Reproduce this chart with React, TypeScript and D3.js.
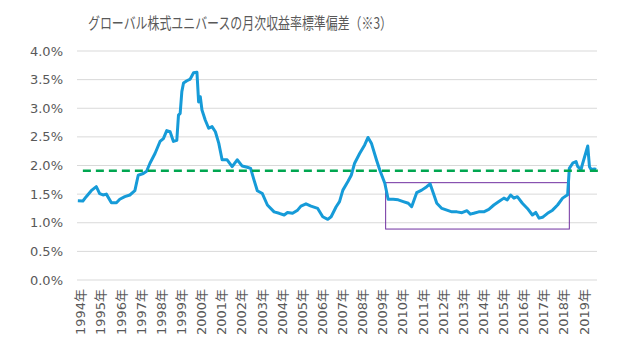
import React from 'react';
import * as d3 from 'd3';

// monthly categories on the axis: 1994-01 .. 2019-10
const firstYear = 1994;
const monthCount = 310;
const yearLabels = d3.range(1994, 2020).map(y => `${y}年`);
const yTicks = [0, 0.5, 1, 1.5, 2, 2.5, 3, 3.5, 4];

// (month, % std dev)
const months = [
  '1994-01', '1994-04', '1994-06', '1994-09', '1994-12', '1995-02', '1995-04', '1995-06', '1995-09', '1995-12',
  '1996-02', '1996-05', '1996-08', '1996-11', '1997-01', '1997-04', '1997-06', '1997-08', '1997-11', '1998-02',
  '1998-04', '1998-06', '1998-08', '1998-10', '1998-12', '1999-01', '1999-02', '1999-03', '1999-04', '1999-06',
  '1999-08', '1999-10', '1999-12', '2000-01', '2000-02', '2000-03', '2000-05', '2000-07', '2000-09', '2000-11',
  '2001-01', '2001-03', '2001-06', '2001-09', '2001-12', '2002-03', '2002-06', '2002-08', '2002-10', '2002-12',
  '2003-03', '2003-06', '2003-10', '2004-01', '2004-04', '2004-06', '2004-09', '2004-12', '2005-02', '2005-05',
  '2005-08', '2005-12', '2006-03', '2006-06', '2006-08', '2006-11', '2007-01', '2007-03', '2007-06', '2007-08',
  '2007-10', '2008-01', '2008-04', '2008-06', '2008-08', '2008-11', '2009-01', '2009-04', '2009-06', '2009-09',
  '2009-12', '2010-03', '2010-06', '2010-08', '2010-11', '2011-02', '2011-05', '2011-07', '2011-09', '2011-11',
  '2012-02', '2012-05', '2012-08', '2012-11', '2013-02', '2013-05', '2013-07', '2013-09', '2013-12', '2014-03',
  '2014-06', '2014-09', '2014-12', '2015-03', '2015-05', '2015-07', '2015-09', '2015-11', '2016-02', '2016-05',
  '2016-08', '2016-10', '2016-12', '2017-02', '2017-05', '2017-08', '2017-11', '2018-02', '2018-05', '2018-06',
  '2018-08', '2018-10', '2018-11', '2019-01', '2019-02', '2019-04', '2019-05', '2019-06', '2019-07', '2019-09',
  '2019-10',
];
const stdDev = [
  1.385, 1.38, 1.455, 1.56, 1.63, 1.51, 1.485, 1.5, 1.35, 1.35,
  1.41, 1.455, 1.485, 1.56, 1.83, 1.86, 1.9, 2.04, 2.21, 2.42,
  2.47, 2.61, 2.59, 2.42, 2.44, 2.88, 2.91, 3.29, 3.44, 3.48,
  3.51, 3.62, 3.63, 3.11, 3.2, 2.97, 2.79, 2.65, 2.68, 2.59,
  2.39, 2.1, 2.1, 1.98, 2.1, 1.99, 1.97, 1.95, 1.75, 1.56,
  1.51, 1.31, 1.19, 1.165, 1.135, 1.18, 1.165, 1.22, 1.29, 1.33,
  1.29, 1.25, 1.105, 1.06, 1.105, 1.28, 1.37, 1.57, 1.72, 1.83,
  2.04, 2.21, 2.36, 2.49, 2.39, 2.1, 1.92, 1.69, 1.41, 1.41,
  1.4, 1.37, 1.34, 1.28, 1.525, 1.57, 1.63, 1.68, 1.51, 1.34,
  1.25, 1.22, 1.19, 1.19, 1.175, 1.21, 1.15, 1.165, 1.19, 1.19,
  1.235, 1.31, 1.37, 1.43, 1.4, 1.485, 1.43, 1.455, 1.34, 1.25,
  1.135, 1.18, 1.08, 1.095, 1.165, 1.22, 1.31, 1.43, 1.49, 1.95,
  2.04, 2.07, 1.98, 1.93, 2.04, 2.24, 2.34, 1.98, 1.93, 1.94,
  1.93,
];

const meanValue = 1.91;
// highlighted low-volatility period
const boxStart = '2009-05';
const boxEnd = '2018-06';
const boxTop = 1.7;
const boxBottom = 0.89;

const title = 'グローバル株式ユニバースの月次収益率標準偏差（※3）';

const monthIndex = (s: string) => {
  const [y, m] = s.split('-').map(Number);
  return (y - firstYear) * 12 + (m - 1);
};

export default function App() {
  const width = 639;
  const height = 351;
  const plot = { left: 77, right: 597, top: 51, bottom: 280 };

  const x = d3.scaleLinear().domain([0, monthCount]).range([plot.left, plot.right]);
  const y = d3.scaleLinear().domain([0, 4]).range([plot.bottom, plot.top]);

  const points = months.map((m, i) => ({ idx: monthIndex(m), v: stdDev[i] }));
  const line = d3.line<{ idx: number; v: number }>()
    .x(d => x(d.idx + 0.5))
    .y(d => y(d.v))
    .curve(d3.curveLinear);

  const tickFont = { fontFamily: '"DejaVu Sans", "Noto Sans CJK JP", sans-serif', fontSize: 13, fill: '#595959' };

  return (
    <svg width={width} height={height} style={{ position: 'fixed', left: 0, top: 0, background: '#fff' }}>
      <text
        x={240} y={29} textAnchor="middle" textLength={304} lengthAdjust="spacingAndGlyphs"
        style={{ fontFamily: '"Noto Sans CJK JP", sans-serif', fontSize: 15.5, fill: '#595959' }}
      >
        {title}
      </text>

      {/* grid + y labels */}
      {yTicks.map(t => (
        <g key={t}>
          <line x1={plot.left} x2={plot.right} y1={y(t)} y2={y(t)} stroke="#d9d9d9" strokeWidth={1} />
          <text x={63} y={y(t)} textAnchor="end" dominantBaseline="central" style={tickFont}>
            {d3.format('.1%')(t / 100)}
          </text>
        </g>
      ))}

      {/* x labels */}
      {yearLabels.map((lab, i) => {
        const px = x(i * 12 + 0.5) + 3;
        return (
          <text
            key={lab}
            transform={`translate(${px},${plot.bottom + 9}) rotate(-90)`}
            textAnchor="end" dominantBaseline="central" style={tickFont}
          >
            {lab}
          </text>
        );
      })}

      {/* highlight box */}
      <rect
        x={x(monthIndex(boxStart))}
        y={y(boxTop)}
        width={x(monthIndex(boxEnd) + 0.5) - x(monthIndex(boxStart))}
        height={y(boxBottom) - y(boxTop)}
        fill="none" stroke="#7030a0" strokeWidth={1}
      />

      {/* series */}
      <path d={line(points) || ''} fill="none" stroke="#169bd8" strokeWidth={3} strokeLinejoin="round" />

      {/* mean */}
      <line
        x1={x(3.5)} x2={x(monthCount) + 4} y1={y(meanValue)} y2={y(meanValue)}
        stroke="#00a650" strokeWidth={2.5} strokeDasharray="8,5"
      />
    </svg>
  );
}
